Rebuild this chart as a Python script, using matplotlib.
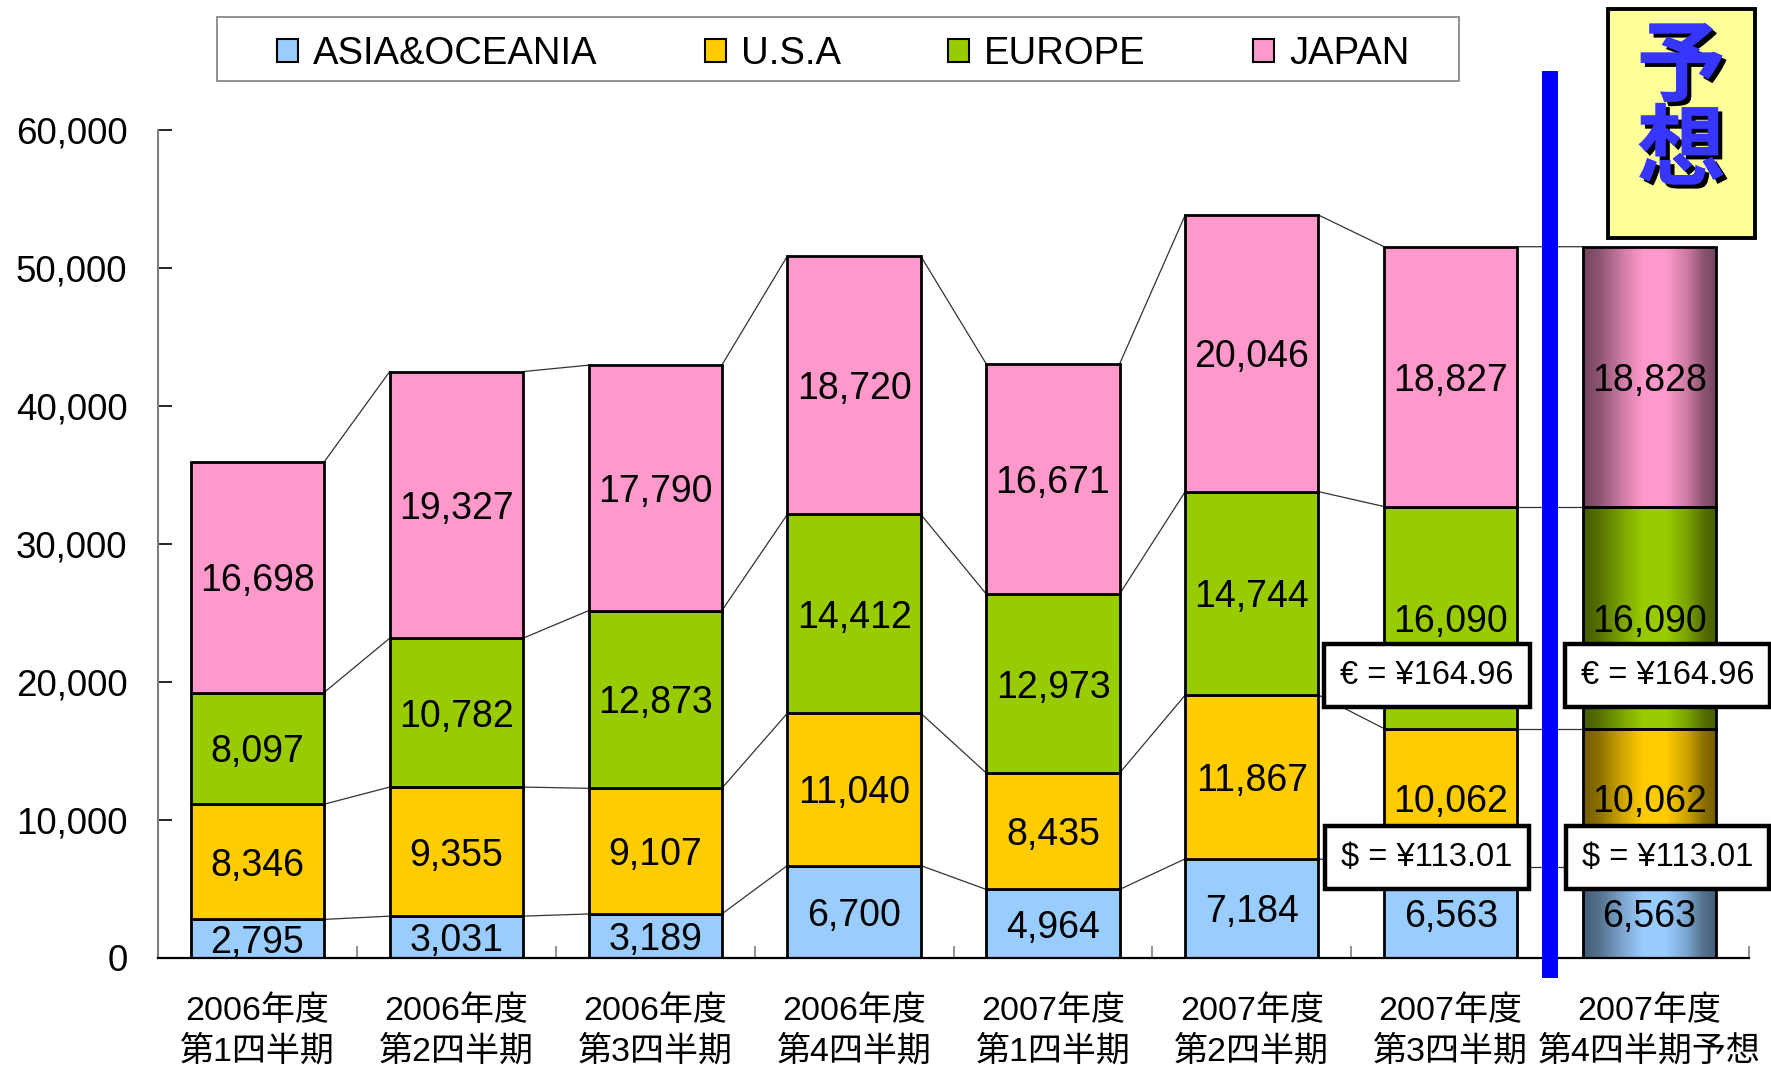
import matplotlib
matplotlib.use("Agg")

import matplotlib.pyplot as plt
import matplotlib.patheffects as pe
import matplotlib.transforms as mtransforms
from matplotlib.colors import to_rgb
from matplotlib.patches import Patch, Rectangle
from matplotlib.ticker import FuncFormatter
import numpy as np

plt.rcParams["font.family"] = ["Liberation Sans", "Noto Sans CJK JP"]

quarters = [
    "2006年度\n第1四半期",
    "2006年度\n第2四半期",
    "2006年度\n第3四半期",
    "2006年度\n第4四半期",
    "2007年度\n第1四半期",
    "2007年度\n第2四半期",
    "2007年度\n第3四半期",
    "2007年度\n第4四半期予想",
]
asia = [2795, 3031, 3189, 6700, 4964, 7184, 6563, 6563]
usa = [8346, 9355, 9107, 11040, 8435, 11867, 10062, 10062]
europe = [8097, 10782, 12873, 14412, 12973, 14744, 16090, 16090]
japan = [16698, 19327, 17790, 18720, 16671, 20046, 18827, 18828]

series_names = ["ASIA&OCEANIA", "U.S.A", "EUROPE", "JAPAN"]
series_colors = ["#99CCFF", "#FFCC00", "#99CC00", "#FF99CC"]

euro_rate = "€ = ¥164.96"
dollar_rate = r"\$ = ¥113.01"
forecast_mark = ["予", "想"]

data = np.array([asia, usa, europe, japan])
tops = np.cumsum(data, axis=0)
bottoms = tops - data
x = np.arange(len(quarters))
width = 0.67
last = len(quarters) - 1

fig = plt.figure(figsize=(17.71, 10.65), dpi=100)
ax = fig.add_axes([0.0892, 0.1005, 0.8984, 0.7774])

# regular stacked bars
for k in range(len(series_names)):
    ax.bar(x[:last], data[k][:last], width, bottom=bottoms[k][:last],
           color=series_colors[k], edgecolor="black", linewidth=2.0, zorder=3)

# forecast bar: cylinder-like shading across the width
t = np.linspace(0, 1, 256)
shade = np.interp(t, [0, 0.12, 0.3, 0.45, 0.62, 0.78, 0.9, 1.0],
                  [0.45, 0.55, 0.82, 1.0, 1.0, 0.8, 0.55, 0.45])
x0 = x[last] - width / 2
for k in range(len(series_names)):
    rgb = np.array(to_rgb(series_colors[k]))
    img = (shade[:, None] * rgb[None, :])[None, :, :]
    ax.imshow(img, extent=[x0, x0 + width, bottoms[k][last], tops[k][last]],
              aspect="auto", interpolation="bilinear", zorder=3)
    ax.add_patch(Rectangle((x0, bottoms[k][last]), width, data[k][last],
                           fill=False, edgecolor="black", linewidth=2.0, zorder=4))

# series lines between neighbouring bars
for k in range(len(series_names)):
    for i in range(len(x) - 1):
        ax.plot([x[i] + width / 2, x[i + 1] - width / 2], [tops[k][i], tops[k][i + 1]],
                color="#333333", linewidth=0.9, zorder=2)

# value labels
for k in range(len(series_names)):
    for i in range(len(x)):
        ax.text(x[i], bottoms[k][i] + data[k][i] / 2, f"{data[k][i]:,}",
                ha="center", va="center_baseline", fontsize=27, zorder=6)

ax.set_xlim(-0.5, len(quarters) - 0.5)
ax.set_ylim(0, 60000)
ax.set_yticks(range(0, 60001, 10000))
ax.yaxis.set_major_formatter(FuncFormatter(lambda v, p: f"{int(v):,}"))
ax.tick_params(axis="y", direction="in", length=10, width=1.2, color="black",
               labelsize=26.5, pad=22)
ax.set_xticks(x)
ax.set_xticklabels(quarters, fontsize=24.5, linespacing=1.32)
ax.set_xticks(np.arange(-0.5, len(quarters)), minor=True)
ax.tick_params(axis="x", which="major", length=0, pad=27)
ax.tick_params(axis="x", which="minor", direction="in", length=9, width=1.2, color="#808080")

for side in ["top", "right"]:
    ax.spines[side].set_visible(False)
ax.spines["left"].set_color("#808080")
ax.spines["left"].set_linewidth(1.5)
ax.spines["bottom"].set_color("black")
ax.spines["bottom"].set_linewidth(1.6)
ax.spines["bottom"].set_zorder(5)

# exchange-rate notes
box_style = dict(boxstyle="square,pad=0.49", facecolor="white", edgecolor="black", linewidth=3.2)
for bx in [5.88, 7.09]:
    ax.text(bx, 20435, euro_rate, ha="center", va="center", fontsize=23.5,
            bbox=box_style, zorder=8, clip_on=False)
    ax.text(bx, 7246, dollar_rate, ha="center", va="center", fontsize=23.5,
            bbox=box_style, zorder=8, clip_on=False)

# divider between actual and forecast quarters
trans = mtransforms.blended_transform_factory(ax.transData, ax.transAxes)
ax.plot([last - 0.5, last - 0.5], [-0.0242, 1.0713], transform=trans, color="#0000FF",
        linewidth=11.5, solid_capstyle="butt", clip_on=False, zorder=7)

# forecast tag
fig.patches.append(Rectangle((0.908, 0.7765), 0.083, 0.215, transform=fig.transFigure,
                             facecolor="#FFFF99", edgecolor="black", linewidth=2.8, zorder=9))
shadow = [pe.withSimplePatchShadow(offset=(3, -3), shadow_rgbFace="black", alpha=1.0), pe.Normal()]
for ch, fy in zip(forecast_mark, [0.936, 0.857]):
    fig.text(0.9492, fy, ch, ha="center", va="center", fontsize=64, fontweight="bold",
             color="#3636FF", family=["Noto Sans CJK JP"], path_effects=shadow, zorder=10)

# legend: frame drawn separately, entries placed inside it
fig.patches.append(Rectangle((217 / 1771, 1 - 81 / 1065), (1459 - 217) / 1771, 64 / 1065,
                             transform=fig.transFigure, facecolor="white",
                             edgecolor="#808080", linewidth=1.2, zorder=1))
handles = [Patch(facecolor=c, edgecolor="black", linewidth=1.5) for c in series_colors]
fig.legend(handles, series_names, loc="center left", bbox_to_anchor=(277 / 1771, 1 - 54 / 1065),
           ncol=4, frameon=False, fontsize=27.5,
           handlelength=0.55, handleheight=0.55, handletextpad=0.4, columnspacing=2.8,
           borderpad=0, borderaxespad=0)

fig.savefig("out.png", dpi=100)
